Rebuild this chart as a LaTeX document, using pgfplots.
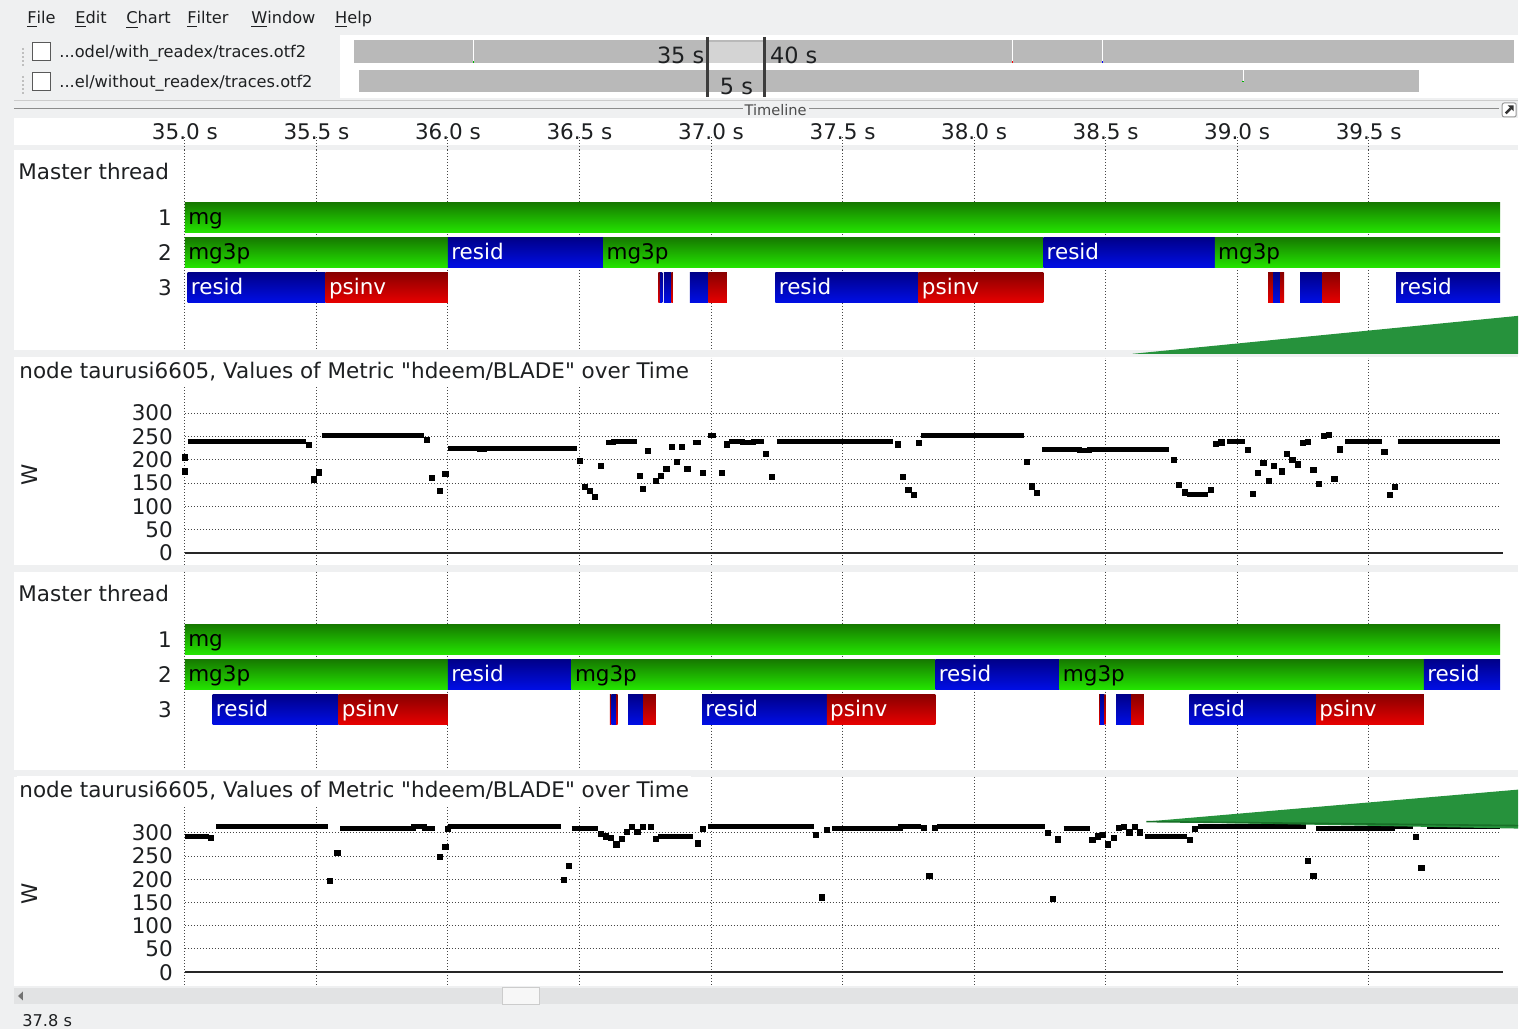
\documentclass[border=0pt]{standalone}
\usepackage{fontspec}
\setmainfont{DejaVu Sans}[Ligatures=TeXOff]
\usepackage{pgfplots}
\pgfplotsset{compat=1.18}

\definecolor{uibg}{RGB}{239,240,241}
\definecolor{uitext}{RGB}{30,32,34}
\definecolor{ovgray}{RGB}{185,185,185}
\definecolor{ovsel}{RGB}{212,212,212}
\definecolor{ovline}{RGB}{60,60,60}
\definecolor{gtop}{RGB}{22,122,0}
\definecolor{gbot}{RGB}{36,230,0}
\definecolor{btop}{RGB}{0,0,138}
\definecolor{bbot}{RGB}{0,14,230}
\definecolor{rtop}{RGB}{138,0,0}
\definecolor{rbot}{RGB}{232,0,0}
\definecolor{gridc}{RGB}{70,70,70}
\definecolor{track}{RGB}{226,227,228}
\definecolor{callout}{RGB}{38,146,60}
\definecolor{calloutedge}{RGB}{24,112,40}

\newcommand\Fa{\fontsize{10.75pt}{12.9pt}\selectfont}
\newcommand\Fb{\fontsize{8.1pt}{9.7pt}\selectfont}
\newcommand\Fc{\fontsize{7.3pt}{8.8pt}\selectfont}
\newcommand\Fd{\fontsize{11.2pt}{13.4pt}\selectfont}

\tikzset{lbl/.style={anchor=west, font=\Fa, inner sep=1.5pt, text height=0.8em, text depth=0.15em},
  px/.style={x=0.5pt, y=-0.5pt}}

\pgfplotsset{
  timeline/.style={
    scale only axis, width=658pt, xmin=35, xmax=40,
    axis line style={draw=none}, tick style={draw=none},
    xtick={35,35.5,36,36.5,37,37.5,38,38.5,39,39.5},
    xticklabels={}, xmajorgrids,
    major grid style={gridc, line width=0.5pt, dash pattern=on 0.5pt off 1pt},
    /pgf/number format/assume math mode=true,
    ticklabel style={font=\Fa, text=uitext},
  },
  threads/.style={timeline, y dir=reverse, ytick={1,2,3}, yticklabels={1,2,3},
    yticklabel shift=3pt},
  metric/.style={timeline, ytick={0,50,100,150,200,250,300}, ymajorgrids, clip=false,
    yticklabel shift=2.5pt},
  gbar/.style={draw=none, top color=gtop, bottom color=gbot, forget plot},
  bbar/.style={draw=none, top color=btop, bottom color=bbot, forget plot},
  rbar/.style={draw=none, top color=rtop, bottom color=rbot, forget plot},
  runs/.style={black, line width=2.5pt, line cap=butt, unbounded coords=jump, mark=none},
  samples/.style={black, only marks, mark=square*, mark size=1.3pt},
}

% one call region per row: start, end, style
\newcommand\barA[3]{\addplot[#3] coordinates {(#1,0.571) (#2,0.571) (#2,1.429) (#1,1.429)};}
\newcommand\barB[3]{\addplot[#3] coordinates {(#1,1.571) (#2,1.571) (#2,2.429) (#1,2.429)};}
\newcommand\barC[3]{\addplot[#3] coordinates {(#1,2.571) (#2,2.571) (#2,3.429) (#1,3.429)};}
\newcommand\lab[4]{\node[lbl, text=#3] at (axis cs:#1,#2) {#4};}

\begin{document}
\begin{tikzpicture}
\begin{scope}[px]
\useasboundingbox (0,0) rectangle (1519,1030);
\fill[uibg] (0,0) rectangle (1519,1030);
\fill[white] (340,35) rectangle (1519,98);
\fill[white] (14,118) rectangle (1519,145);
\fill[white] (14,150) rectangle (1519,350);
\fill[white] (14,357) rectangle (1519,565);
\fill[white] (14,572) rectangle (1519,770);
\fill[white] (14,777) rectangle (1519,986);

% menu bar
\begin{scope}[every node/.style={anchor=base west, font=\Fb, text=uitext, inner sep=0pt}]
\node at (27,24) {\underline{F}ile};
\node at (75,24) {\underline{E}dit};
\node at (126,24) {\underline{C}hart};
\node at (187,24) {\underline{F}ilter};
\node at (251,24) {\underline{W}indow};
\node at (335,24) {\underline{H}elp};
\node at (59,58) {...odel/with\_readex/traces.otf2};
\node at (59,88) {...el/without\_readex/traces.otf2};
\node at (22,1027) {37.8 s};
\end{scope}
\draw[black!65, fill=white, line width=0.5pt] (33,43) rectangle (51,61);
\draw[black!65, fill=white, line width=0.5pt] (33,73) rectangle (51,91);
\draw[black!25, line width=1pt, dash pattern=on 1pt off 1pt] (23,48) -- (23,66);
\draw[black!25, line width=1pt, dash pattern=on 1pt off 1pt] (23,76) -- (23,94);

% frame caption
\draw[black!20, line width=0.5pt] (14,100.5) -- (1519,100.5);
\draw[black!45, line width=0.7pt] (14,108.5) -- (1500,108.5);
\node[fill=uibg, font=\Fc, text=black!70, inner sep=1pt] at (776,110) {Timeline};
\draw[black!40, fill=white, rounded corners=1pt, line width=0.5pt] (1503,103) rectangle (1517,117);
\draw[black!80, line width=1.2pt] (1506.5,113.5) -- (1511.5,108.5);
\fill[black!80] (1514.5,105.5) -- (1514.5,111.5) -- (1508.5,105.5) -- cycle;

% scrollbar
\fill[track] (14,988) rectangle (1519,1005);
\draw[black!20, fill=black!3, line width=0.5pt] (503,988) rectangle (540,1005);
\fill[black!55] (18,996.5) -- (23,992) -- (23,1001) -- cycle;
\end{scope}

% trace overview
\begin{axis}[scale only axis, at={(170pt,-17.5pt)}, anchor=north west, width=589.5pt, height=31.5pt,
  xmin=2.72, xmax=106.14, ymin=0, ymax=63, y dir=reverse, hide axis, clip=false]
\addplot[fill=ovgray, draw=none] coordinates {(3.95,5) (105.79,5) (105.79,28) (3.95,28)};
\addplot[fill=ovgray, draw=none] coordinates {(4.39,35) (97.46,35) (97.46,57) (4.39,57)};
\addplot[fill=ovsel, draw=none] coordinates {(35,7) (40,7) (40,28) (35,28)};
\addplot[white, line width=0.6pt] coordinates {(14.47,5) (14.47,27)};
\addplot[white, line width=0.6pt] coordinates {(61.75,5) (61.75,27)};
\addplot[white, line width=0.6pt] coordinates {(69.65,5) (69.65,27)};
\addplot[white, line width=0.6pt] coordinates {(82.0,35) (82.0,46)};
\addplot[green!70!black, line width=0.7pt] coordinates {(14.47,26.5) (14.47,28)};
\addplot[red, line width=0.7pt] coordinates {(61.75,26.5) (61.75,28)};
\addplot[blue, line width=0.7pt] coordinates {(69.65,26.5) (69.65,28)};
\addplot[green!70!black, line width=0.7pt] coordinates {(82.0,46) (82.0,47.5)};
\addplot[ovline, line width=1.5pt] coordinates {(35,2) (35,62)};
\addplot[ovline, line width=1.5pt] coordinates {(40,2) (40,62)};
\node[anchor=east, font=\Fd, text=uitext, inner sep=0pt] at (axis cs:34.74,20) {35 s};
\node[anchor=west, font=\Fd, text=uitext, inner sep=0pt] at (axis cs:40.44,20) {40 s};
\node[anchor=west, font=\Fd, text=uitext, inner sep=0pt] at (axis cs:36.05,52) {5 s};
\end{axis}

% time ruler
\begin{axis}[timeline, at={(92.5pt,-68.5pt)}, anchor=north west, height=6.5pt, ymin=0, ymax=1, ytick=\empty,
  xticklabels={35.0 s,35.5 s,36.0 s,36.5 s,37.0 s,37.5 s,38.0 s,38.5 s,39.0 s,39.5 s},
  xticklabel pos=right, xticklabel style={anchor=base, yshift=-1.5pt}]
\addplot[draw=none] coordinates {(35,0) (40,1)};
\end{axis}

% master thread, with readex
\begin{axis}[threads, at={(92.5pt,-75pt)}, anchor=north west, height=100pt, ymin=-0.943, ymax=4.771]
\barA{35}{40}{gbar}
\barB{35}{36}{gbar} \barB{36}{36.59}{bbar} \barB{36.59}{38.263}{gbar}
\barB{38.263}{38.915}{bbar} \barB{38.915}{40}{gbar}
\barC{35.01}{35.535}{bbar} \barC{35.535}{36}{rbar}
\barC{36.800}{36.806}{rbar} \barC{36.806}{36.815}{bbar} \barC{36.821}{36.849}{bbar} \barC{36.849}{36.855}{rbar}
\barC{36.92}{36.99}{bbar} \barC{36.99}{37.06}{rbar}
\barC{37.245}{37.789}{bbar} \barC{37.789}{38.263}{rbar}
\barC{39.118}{39.137}{rbar} \barC{39.137}{39.163}{bbar} \barC{39.163}{39.179}{rbar}
\barC{39.239}{39.324}{bbar} \barC{39.324}{39.39}{rbar}
\barC{39.604}{40}{bbar}
\lab{35}{1}{black}{mg}
\lab{35}{2}{black}{mg3p} \lab{36}{2}{white}{resid} \lab{36.59}{2}{black}{mg3p}
\lab{38.263}{2}{white}{resid} \lab{38.915}{2}{black}{mg3p}
\lab{35.01}{3}{white}{resid} \lab{35.535}{3}{white}{psinv}
\lab{37.245}{3}{white}{resid} \lab{37.789}{3}{white}{psinv} \lab{39.604}{3}{white}{resid}
\end{axis}

% power, with readex
\begin{axis}[metric, at={(92.5pt,-179pt)}, anchor=north west, height=103.5pt, ymin=-25.1, ymax=418.5]
\addplot[black!85, line width=1pt] coordinates {(35,0) (40.01,0)};
\addplot[runs] table {
t W
35.01 239
35.46 239
nan nan
35.52 251
35.91 251
nan nan
36.00 224
36.12 224
36.12 221
36.14 221
36.14 224
36.49 224
nan nan
36.60 236
36.63 236
36.63 240
36.72 240
nan nan
36.93 236
36.96 236
nan nan
36.99 253
37.02 253
nan nan
37.07 240
37.12 240
37.12 236
37.16 236
37.16 239
37.20 239
nan nan
37.25 239
37.69 239
nan nan
37.80 251
38.19 251
nan nan
38.26 223
38.40 223
38.40 220
38.44 220
38.44 223
38.74 223
nan nan
38.81 126
38.89 126
nan nan
38.96 240
39.03 240
nan nan
39.41 239
39.55 239
nan nan
39.61 239
40.00 239
};
\addplot[samples] table {
t W
35.00 205
35.00 175
35.47 232
35.49 158
35.51 173
35.92 242
35.94 161
35.97 134
35.99 170
36.50 198
36.52 142
36.54 134
36.56 121
36.58 186
36.73 166
36.74 137
36.76 219
36.79 155
36.81 166
36.83 181
36.85 227
36.87 196
36.89 227
36.91 181
36.97 172
37.04 172
37.06 233
37.21 213
37.23 164
37.71 233
37.73 164
37.75 135
37.77 124
37.79 236
38.20 196
38.22 143
38.24 129
38.76 199
38.78 146
38.80 130
38.90 135
38.92 234
38.94 237
39.04 221
39.06 126
39.08 172
39.10 193
39.12 155
39.14 187
39.17 175
39.19 213
39.21 199
39.23 190
39.25 236
39.27 239
39.29 179
39.31 149
39.33 251
39.35 254
39.37 159
39.39 222
39.56 216
39.58 124
39.60 141
};
\end{axis}

% master thread, without readex
\begin{axis}[threads, at={(92.5pt,-286pt)}, anchor=north west, height=99pt, ymin=-0.943, ymax=4.714]
\barA{35}{40}{gbar}
\barB{35}{36}{gbar} \barB{36}{36.47}{bbar} \barB{36.47}{37.853}{gbar}
\barB{37.853}{38.325}{bbar} \barB{38.325}{39.71}{gbar} \barB{39.71}{40}{bbar}
\barC{35.105}{35.584}{bbar} \barC{35.584}{36}{rbar}
\barC{36.615}{36.621}{rbar} \barC{36.621}{36.639}{bbar} \barC{36.639}{36.645}{rbar}
\barC{36.685}{36.742}{bbar} \barC{36.742}{36.79}{rbar}
\barC{36.966}{37.44}{bbar} \barC{37.44}{37.853}{rbar}
\barC{38.475}{38.479}{rbar} \barC{38.479}{38.496}{bbar} \barC{38.496}{38.5}{rbar}
\barC{38.54}{38.597}{bbar} \barC{38.597}{38.645}{rbar}
\barC{38.818}{39.30}{bbar} \barC{39.30}{39.71}{rbar}
\lab{35}{1}{black}{mg}
\lab{35}{2}{black}{mg3p} \lab{36}{2}{white}{resid} \lab{36.47}{2}{black}{mg3p}
\lab{37.853}{2}{white}{resid} \lab{38.325}{2}{black}{mg3p} \lab{39.71}{2}{white}{resid}
\lab{35.105}{3}{white}{resid} \lab{35.584}{3}{white}{psinv}
\lab{36.966}{3}{white}{resid} \lab{37.44}{3}{white}{psinv}
\lab{38.818}{3}{white}{resid} \lab{39.30}{3}{white}{psinv}
\end{axis}

% power, without readex
\begin{axis}[metric, at={(92.5pt,-388.5pt)}, anchor=north west, height=104pt, ymin=-26.5, ymax=421.1]
\addplot[black!85, line width=1pt] coordinates {(35,0) (40.01,0)};
\addplot[runs] table {
t W
35.00 292
35.09 292
nan nan
35.12 313
35.545 313
nan nan
35.59 310
35.87 310
35.87 313
35.91 313
35.91 310
35.95 310
nan nan
36.00 313
36.43 313
nan nan
36.47 310
36.57 310
nan nan
36.80 292
36.93 292
nan nan
36.99 313
37.39 313
nan nan
37.46 310
37.72 310
37.72 313
37.80 313
nan nan
37.86 313
38.27 313
nan nan
38.34 310
38.44 310
nan nan
38.65 292.5
38.81 292.5
nan nan
38.85 313
39.26 313
nan nan
39.30 310
39.59 310
39.59 313
39.67 313
nan nan
39.72 313
40.00 313
};
\addplot[samples] table {
t W
35.10 289
35.55 196
35.58 257
35.97 248
35.99 269
36.00 308
36.44 199
36.46 228
36.58 298
36.60 292.5
36.62 289
36.64 275
36.66 287
36.68 302
36.70 313
36.72 302
36.74 313
36.77 313
36.79 287
36.95 277.5
36.97 308
37.40 295
37.42 161
37.44 306
37.81 310
37.83 208
37.85 310
38.28 300
38.30 158.5
38.32 286
38.45 284
38.47 292.5
38.49 295
38.51 275
38.53 289
38.55 310
38.57 313
38.59 301
38.61 313
38.63 301
38.82 284
38.84 309
39.27 239.5
39.29 208
39.68 292
39.70 225
};
\end{axis}

\begin{scope}[px]
% panel captions
\node[anchor=base west, font=\Fa, text=uitext, inner sep=0pt] at (18,180) {Master thread};
\node[anchor=base west, font=\Fa, text=uitext, inner sep=0pt] at (18,602) {Master thread};
\node[anchor=base west, font=\Fa, text=uitext, fill=white, inner xsep=1pt, inner ysep=2.5pt] at (17,379)
  {node taurusi6605, Values of Metric "hdeem/BLADE" over Time};
\node[anchor=base west, font=\Fa, text=uitext, fill=white, inner xsep=1pt, inner ysep=2.5pt] at (17,798)
  {node taurusi6605, Values of Metric "hdeem/BLADE" over Time};
\node[font=\Fa, text=uitext, rotate=90] at (30,475) {W};
\node[font=\Fa, text=uitext, rotate=90] at (30,894) {W};

% callout wedges
\fill[callout] (1133,354) -- (1519,316) -- (1519,354) -- cycle;
\fill[callout] (1147,822) -- (1519,790) -- (1519,829) -- cycle;
\draw[calloutedge, line width=0.8pt] (1147,822) -- (1519,826);
\end{scope}
\end{tikzpicture}
\end{document}
